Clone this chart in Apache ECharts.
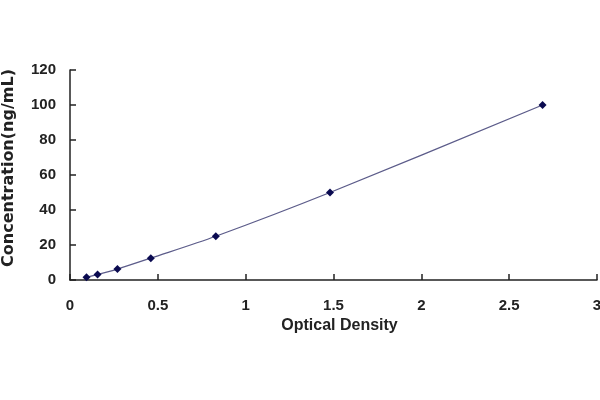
<!DOCTYPE html>
<html>
<head>
<meta charset="utf-8">
<script src="https://cdn.jsdelivr.net/npm/echarts@6/dist/echarts.min.js"></script>
<style>
  html, body { margin: 0; padding: 0; background: #fff; }
  #chart { width: 600px; height: 400px; }
</style>
</head>
<body>
<div id="chart"></div>
<script>
// standard curve: optical density vs concentration
var od = [0.094, 0.157, 0.27, 0.46, 0.83, 1.48, 2.69];
var conc = [1.56, 3.12, 6.25, 12.5, 25, 50, 100];

var points = od.map(function (x, i) { return [x, conc[i]]; });

var chart = echarts.init(document.getElementById('chart'));

var labelStyle = {
    fontFamily: 'Liberation Sans, Arial, sans-serif',
    fontWeight: 'bold',
    fontSize: 15,
    color: '#222'
};

chart.setOption({
    animation: false,
    grid: {
        left: 70,
        right: 3,
        top: 70,
        bottom: 120,
        containLabel: false,
        outerBoundsMode: 'none'
    },
    xAxis: {
        type: 'value',
        min: 0,
        max: 3,
        interval: 0.5,
        name: 'Optical Density',
        nameLocation: 'middle',
        nameGap: 38,
        nameTextStyle: {
            fontFamily: 'Liberation Sans, Arial, sans-serif',
            fontWeight: 'bold',
            fontSize: 16,
            color: '#222',
            padding: [0, 0, 0, 12]
        },
        axisLine: { lineStyle: { color: '#222', width: 1.5 } },
        axisTick: { inside: true, length: 6, lineStyle: { color: '#222', width: 1.5 } },
        axisLabel: Object.assign({ margin: 18 }, labelStyle),
        splitLine: { show: false }
    },
    yAxis: {
        type: 'value',
        min: 0,
        max: 120,
        interval: 20,
        name: 'Concentration(ng/mL)',
        nameLocation: 'middle',
        nameGap: 53,
        nameTextStyle: {
            fontFamily: 'DejaVu Sans, sans-serif',
            fontWeight: 'bold',
            fontSize: 16,
            color: '#222',
            padding: [0, 0, 0, 14]
        },
        axisLine: { show: true, lineStyle: { color: '#222', width: 1.5 } },
        axisTick: { show: true, inside: true, length: 6, lineStyle: { color: '#222', width: 1.5 } },
        axisLabel: Object.assign({ margin: 14 }, labelStyle),
        splitLine: { show: false }
    },
    series: [{
        type: 'line',
        data: points,
        smooth: 0.3,
        symbol: 'diamond',
        symbolSize: 8,
        itemStyle: { color: '#0a0a50' },
        lineStyle: { color: '#5c5c8a', width: 1.3 }
    }]
});
</script>
</body>
</html>
